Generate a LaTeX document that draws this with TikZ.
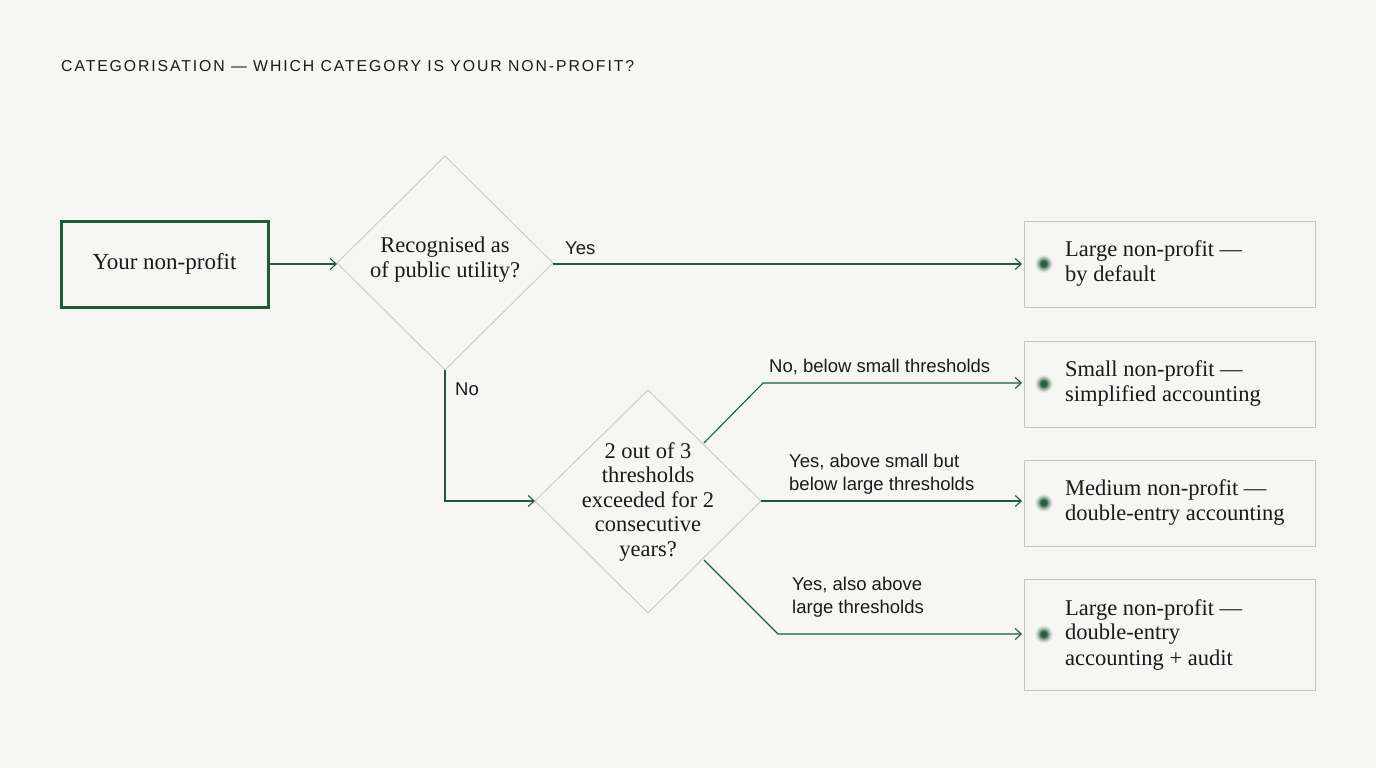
\documentclass[tikz,border=0pt]{standalone}
\usepackage{fontspec}
\setmainfont{Liberation Serif}
\newfontfamily\lab{Liberation Sans}
\newfontfamily\ttl[LetterSpace=12]{Liberation Sans}
\usetikzlibrary{shapes.geometric,arrows.meta}
\definecolor{bg}{HTML}{F6F6F4}
\definecolor{gr}{HTML}{1F5A3A}
\definecolor{bx}{HTML}{C4C4C4}
\definecolor{tx}{HTML}{1A1A1A}
\begin{document}
\begin{tikzpicture}[x=1pt,y=-1pt,
  lbl/.style={font=\lab\fontsize{18.5}{23}\selectfont,text=tx,align=left,inner sep=0},
  outbox/.style={draw=bx,fill=bg,line width=0.8pt,minimum width=291pt,anchor=north west},
  otext/.style={font=\fontsize{22.5}{25}\selectfont,text=tx,align=left,anchor=west,inner sep=0},
  dia/.style={draw=bx,line width=0.8pt},
  con/.style={draw=gr,line width=1.1pt,-{Straight Barb[length=6pt,width=11pt]}}]
\fill[bg] (0,0) rectangle (1376,768);
\node[font=\ttl\fontsize{15.8}{18}\selectfont,text=tx,anchor=west,inner sep=0] (t) at (61,66) {CATEGORISATION — WHICH CATEGORY IS YOUR NON-PROFIT?};
\node[draw=gr,line width=3pt,minimum width=207pt,minimum height=86pt,font=\fontsize{23}{25}\selectfont,text=tx] (s) at (164.5,264) {Your non-profit};
\draw[dia] (445,156) -- (553,263) -- (445,370) -- (337,263) -- cycle;
\coordinate (d1r) at (553,264); \coordinate (d1b) at (445,370); \coordinate (d1l) at (337,264);
\node[font=\fontsize{22.5}{25}\selectfont,text=tx,align=center] (d1) at (445,260) {Recognised as\\of public utility?};
\draw[dia] (648,390) -- (761,501) -- (648,613) -- (535,501) -- cycle;
\coordinate (d2l) at (535,501); \coordinate (d2r) at (761,501);
\coordinate (d2ur) at (704,443); \coordinate (d2lr) at (704,560);
\node[font=\fontsize{22.5}{24.5}\selectfont,text=tx,align=center] (d2) at (648,502) {2 out of 3\\thresholds\\exceeded for 2\\consecutive\\years?};
\foreach \n/\y/\h/\t in {o1/221/86/{Large non-profit —\\by default},o2/341/86/{Small non-profit —\\simplified accounting},o3/460/86/{Medium non-profit —\\double-entry accounting},o4/579/111/{Large non-profit —\\double-entry\\accounting + audit}}{
  \node[outbox,minimum height=\h pt] (\n) at (1024,\y) {};
  \foreach \r/\o in {9/0.06,8/0.1,7/0.15,6/0.22,5/0.35,4/0.55,3/0.8}{\fill[gr,opacity=\o] (1044,\y+\h/2) circle (\r pt);}
  \node[otext] at (1065,\y+\h/2) {\t};
}
\coordinate (o1l) at (1022,264); \coordinate (o2l) at (1022,383); \coordinate (o3l) at (1022,501); \coordinate (o4l) at (1022,634);
\draw[con] (s.east) -- (d1l);
\draw[con] (d1r) -- (o1l);
\node[lbl,anchor=west] at (565,248) {Yes};
\draw[con] (d1b) |- (d2l);
\node[lbl,anchor=west] at (455,389) {No};
\draw[con] (d2ur) -- (763,383) -- (o2l);
\node[lbl,anchor=west] at (769,367) {No, below small thresholds};
\draw[con] (d2r) -- (o3l);
\node[lbl,anchor=west] at (789,474) {Yes, above small but\\below large thresholds};
\draw[con] (d2lr) -- (778,634) -- (o4l);
\node[lbl,anchor=west] at (792,597) {Yes, also above\\large thresholds};
\end{tikzpicture}
\end{document}
